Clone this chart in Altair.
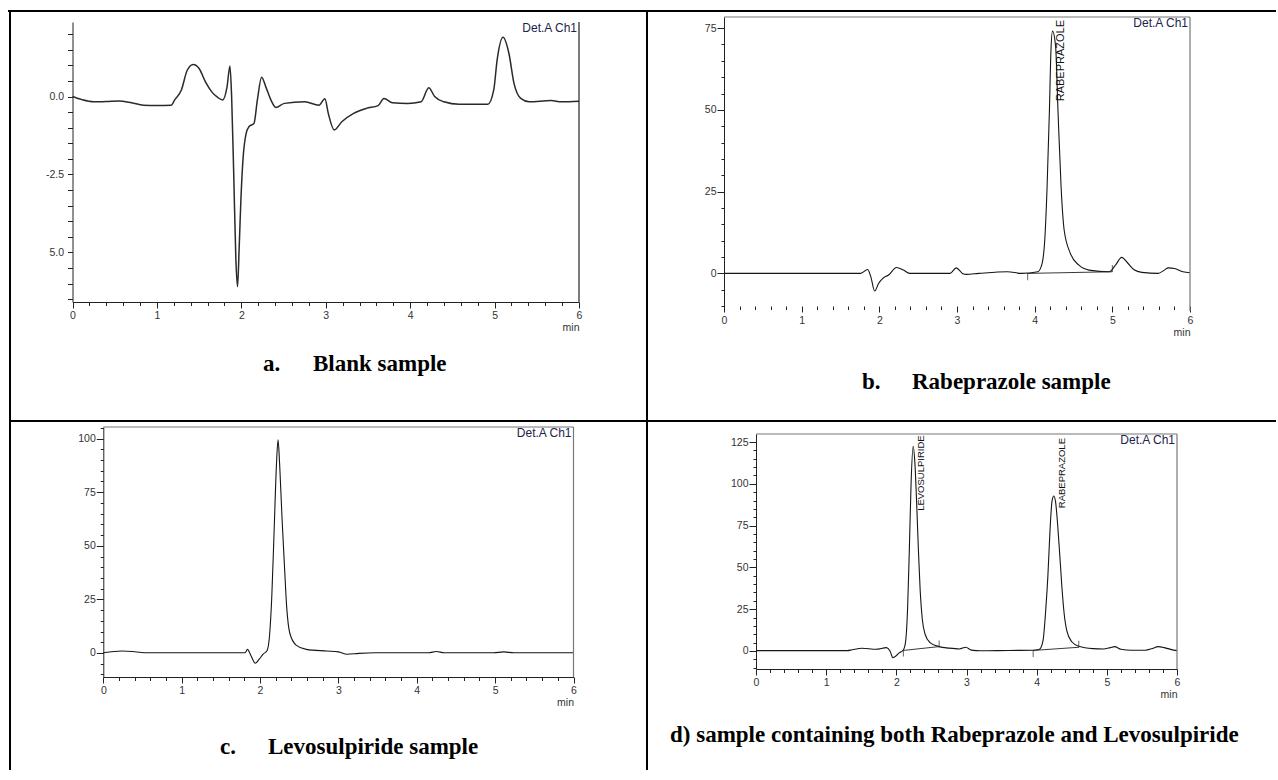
import altair as alt
import pandas as pd

W, H = 1276, 770

# ---------------- data ----------------
# a. Blank sample
blank_t = [0.00, 0.11, 0.25, 0.40, 0.55, 0.70, 0.84, 1.00, 1.17, 1.21,
           1.29, 1.36, 1.43, 1.50, 1.575, 1.65, 1.72, 1.78, 1.83, 1.865,
           1.885, 1.91, 1.935, 1.955, 1.975, 1.995, 2.02, 2.057, 2.09, 2.15,
           2.19, 2.24, 2.29, 2.35, 2.41, 2.51, 2.75, 2.92, 2.99, 3.03,
           3.10, 3.19, 3.33, 3.48, 3.62, 3.69, 3.79, 3.97, 4.13, 4.22,
           4.29, 4.40, 4.58, 4.92, 4.99, 5.03, 5.10, 5.17, 5.23, 5.31,
           5.41, 5.67, 5.79, 6.00]
blank_v = [0.00, -0.10, -0.17, -0.16, -0.14, -0.20, -0.28, -0.29, -0.28, -0.11,
           0.21, 0.85, 1.03, 0.90, 0.47, 0.15, -0.03, -0.11, 0.30, 0.98,
           0.00, -2.50, -5.20, -6.10, -4.80, -3.30, -2.00, -1.18, -0.97, -0.86,
           -0.11, 0.62, 0.31, -0.11, -0.35, -0.22, -0.17, -0.28, -0.07, -0.54,
           -1.07, -0.81, -0.54, -0.38, -0.29, -0.06, -0.20, -0.22, -0.17, 0.28,
           0.00, -0.17, -0.25, -0.25, 0.21, 1.17, 1.90, 1.38, 0.42, -0.06,
           -0.17, -0.13, -0.17, -0.15]

# b. Rabeprazole sample
rabe_t = [0.00, 1.76, 1.85, 1.89, 1.94, 1.99, 2.045, 2.12, 2.22, 2.31,
          2.39, 2.91, 2.99, 3.07, 3.12, 3.28, 3.65, 3.83, 4.04, 4.09,
          4.13, 4.16, 4.19, 4.21, 4.23, 4.27, 4.30, 4.34, 4.38, 4.46,
          4.57, 4.70, 4.96, 5.04, 5.12, 5.20, 5.28, 5.38, 5.59, 5.67,
          5.72, 5.80, 5.91, 6.00]
rabe_v = [0.0, 0.0, 1.2, -1.0, -5.4, -3.1, -1.5, -0.5, 1.8, 1.0,
          0.0, 0.0, 1.7, 0.0, -0.3, 0.0, 0.5, 0.0, 0.5, 2.5,
          10.2, 26.5, 49.9, 68.3, 74.1, 69.3, 49.9, 26.5, 13.2, 6.1,
          2.5, 1.0, 0.5, 2.5, 4.9, 3.1, 1.1, 0.3, 0.0, 1.0,
          1.7, 1.5, 0.5, 0.2]
rabe_base_t = [3.91, 5.00]
rabe_base_v = [0.0, 0.5]
rabe_mark_t = [3.91, 5.00]
rabe_mark_v = [-1.0, 1.5]
rabe_peak_names = ["RABEPRAZOLE"]
rabe_peak_t = [4.34]
rabe_peak_top = [77.5]

# c. Levosulpiride sample
levo_t = [0.00, 0.24, 0.40, 0.56, 1.81, 1.84, 1.88, 1.94, 1.99, 2.04,
          2.09, 2.12, 2.15, 2.18, 2.21, 2.23, 2.25, 2.28, 2.31, 2.34,
          2.38, 2.46, 2.59, 2.85, 3.00, 3.11, 3.26, 3.47, 4.15, 4.25,
          4.35, 4.98, 5.11, 5.24, 6.00]
levo_v = [0.1, 0.9, 0.6, 0.1, 0.1, 1.7, -0.9, -4.8, -2.9, -0.5,
          1.2, 7.6, 26.2, 57.2, 88.2, 99.4, 88.2, 63.4, 41.7, 21.5,
          9.2, 3.7, 1.7, 0.9, 0.5, -0.6, -0.2, 0.1, 0.1, 0.7,
          0.1, 0.1, 0.5, 0.1, 0.1]

# d. mixture
mix_t = [0.00, 1.30, 1.37, 1.51, 1.71, 1.86, 1.91, 1.95, 2.00, 2.04,
         2.10, 2.13, 2.16, 2.185, 2.21, 2.24, 2.265, 2.29, 2.315, 2.34,
         2.37, 2.41, 2.48, 2.61, 2.75, 2.90, 2.99, 3.07, 3.20, 3.60,
         3.95, 4.04, 4.09, 4.13, 4.16, 4.19, 4.22, 4.245, 4.27, 4.30,
         4.33, 4.36, 4.39, 4.43, 4.50, 4.60, 4.80, 4.95, 5.05, 5.11,
         5.20, 5.35, 5.55, 5.65, 5.73, 5.82, 5.92, 6.00]
mix_v = [0.2, 0.2, 0.7, 1.6, 1.0, 2.0, 0.0, -4.0, -2.8, -1.2,
         0.6, 5.0, 25.0, 60.0, 100.0, 122.5, 112.0, 88.0, 60.0, 36.0,
         19.0, 10.0, 5.0, 2.6, 1.7, 1.2, 2.2, 0.5, 0.1, 0.3,
         0.4, 1.0, 6.0, 25.0, 45.0, 72.0, 90.0, 92.7, 89.0, 75.0,
         57.0, 38.0, 23.0, 12.0, 5.5, 2.8, 1.4, 1.2, 2.0, 2.6,
         1.0, 0.4, 0.4, 1.5, 2.6, 2.0, 0.8, 0.2]
mix_base_seg = ["p1", "p1", "p2", "p2"]
mix_base_t = [2.10, 2.61, 3.95, 4.60]
mix_base_v = [0.3, 2.6, 0.3, 2.2]
mix_mark_t = [2.10, 2.61, 3.95, 4.60]
mix_mark_v = [-1.2, 4.2, -1.6, 4.0]
mix_peak_names = ["LEVOSULPIRIDE", "RABEPRAZOLE"]
mix_peak_t = [2.35, 4.355]
mix_peak_top = [129.0, 127.4]

# tick values
x_ticks = [round(i * 0.2, 1) for i in range(31)]
a_yticks = [-6.5, -6.0, -5.5, -5.0, -4.5, -4.0, -3.5, -3.0, -2.5, -2.0, -1.5,
            -1.0, -0.5, 0.0, 0.5, 1.0, 1.5, 2.0]
b_yticks = list(range(-10, 80, 5))
c_yticks = list(range(-10, 106, 5))
d_yticks = list(range(-10, 130, 5))

captions = [
    ("a.", 263, 371), ("Blank sample", 313, 371),
    ("b.", 862, 389), ("Rabeprazole sample", 912, 389),
    ("c.", 220, 754), ("Levosulpiride sample", 268, 754),
    ("d) sample containing both Rabeprazole and Levosulpiride", 670, 742),
]

# ---------------- styling helpers ----------------
AX = dict(domainColor="#222", tickColor="#222", labelColor="#333",
          labelFont="Liberation Sans", labelFontSize=10.5, grid=False,
          labelFlush=False, labelOverlap=False)
one = pd.DataFrame({"k": [0]})


def x_axis(ypos, domain=True, pad=2):
    return alt.Axis(orient="bottom", offset=ypos - H, values=x_ticks,
                    labelExpr="datum.value % 1 === 0 ? '' + datum.value : ''",
                    tickSize={"condition": {"test": "datum.value % 1 === 0", "value": 6}, "value": 3.5},
                    domain=domain, labelPadding=pad,
                    title="min", titleAnchor="end", titleAlign="right",
                    titleFont="Liberation Sans", titleFontSize=10.5,
                    titleFontWeight="normal", titleColor="#333", titlePadding=2,
                    **AX)


def y_axis(xpos, values, label_expr, tick_size, pad):
    return alt.Axis(orient="left", offset=-xpos, values=values, labelExpr=label_expr,
                    tickSize=tick_size, labelPadding=pad, title=None, **AX)


def panel(t, v, xr, yd, yr, xax, yax, line_w=1.1, line_col="#151515",
          frame_top=True, frame_col="#777", det_dy=1):
    xs = alt.Scale(domain=[0, 6], range=xr, zero=False, nice=False)
    ys = alt.Scale(domain=yd, range=yr, zero=False, nice=False)
    df = pd.DataFrame({"t": t, "v": v})
    layers = [
        alt.Chart(df).mark_line(interpolate="monotone", color=line_col, strokeWidth=line_w).encode(
            x=alt.X("t:Q", scale=xs, axis=xax), y=alt.Y("v:Q", scale=ys, axis=yax)),
        alt.Chart(one).mark_rule(color=frame_col, strokeWidth=1.2).encode(
            x=alt.XDatum(6, type="quantitative", scale=xs, axis=None),
            y=alt.YDatum(yd[0], type="quantitative", scale=ys, axis=None),
            y2=alt.Y2Datum(yd[1])),
        alt.Chart(one).mark_text(align="right", baseline="top", dx=-2, dy=det_dy,
                                 font="Liberation Sans", fontSize=12, color="#22224a").encode(
            x=alt.XDatum(6, type="quantitative", scale=xs, axis=None),
            y=alt.YDatum(yd[1], type="quantitative", scale=ys, axis=None),
            text=alt.value("Det.A Ch1")),
    ]
    if frame_top:
        layers.append(alt.Chart(one).mark_rule(color=frame_col, strokeWidth=1.2).encode(
            x=alt.XDatum(0, type="quantitative", scale=xs, axis=None),
            x2=alt.X2Datum(6),
            y=alt.YDatum(yd[1], type="quantitative", scale=ys, axis=None)))
    return layers, xs, ys


def extras(xs, ys, base=None, marks=None, peaks=None, font_size=9):
    out = []
    if base is not None:
        out.append(alt.Chart(base).mark_line(color="#222", strokeWidth=0.9).encode(
            x=alt.X("t:Q", scale=xs, axis=None), y=alt.Y("v:Q", scale=ys, axis=None),
            detail="seg:N"))
    if marks is not None:
        out.append(alt.Chart(marks).mark_tick(orient="vertical", size=7, thickness=1, color="#222").encode(
            x=alt.X("t:Q", scale=xs, axis=None), y=alt.Y("v:Q", scale=ys, axis=None)))
    if peaks is not None:
        out.append(alt.Chart(peaks).mark_text(angle=270, align="right", baseline="middle",
                                               font="Liberation Sans Narrow, Arial Narrow, Liberation Sans",
                                               fontSize=font_size, color="#111").encode(
            x=alt.X("t:Q", scale=xs, axis=None), y=alt.Y("top:Q", scale=ys, axis=None),
            text="name:N"))
    return out


# ---- panel a ----
a_layers, _, _ = panel(
    blank_t, blank_v, [72.5, 579], [-6.59, 2.39], [302, 22],
    x_axis(302),
    y_axis(72.5, a_yticks,
           "datum.value === 0 ? '0.0' : datum.value === -2.5 ? '-2.5' : datum.value === -5 ? '5.0' : ''",
           5, 4),
    line_w=1.5, line_col="#2a2a2a", frame_top=False, frame_col="#222")

# ---- panel b ----
major25 = {"condition": {"test": "datum.value % 25 === 0", "value": 7}, "value": 3}
lab25 = "datum.value % 25 === 0 ? '' + datum.value : ''"
b_layers, bxs, bys = panel(
    rabe_t, rabe_v, [724, 1190], [-11.5, 78.4], [311, 17],
    x_axis(306, domain=False, pad=3),
    y_axis(724, b_yticks, lab25, major25, 1))
b_layers += extras(
    bxs, bys,
    base=pd.DataFrame({"t": rabe_base_t, "v": rabe_base_v, "seg": ["p1", "p1"]}),
    marks=pd.DataFrame({"t": rabe_mark_t, "v": rabe_mark_v}),
    peaks=pd.DataFrame({"t": rabe_peak_t, "top": rabe_peak_top, "name": rabe_peak_names}),
    font_size=11)

# ---- panel c ----
c_layers, _, _ = panel(
    levo_t, levo_v, [103.3, 573.5], [-11.2, 105.4], [677, 427],
    x_axis(677),
    y_axis(103.3, c_yticks, lab25, major25, 1))

# ---- panel d ----
d_layers, dxs, dys = panel(
    mix_t, mix_v, [756, 1177], [-10.8, 129.8], [669, 434],
    x_axis(669),
    y_axis(756, d_yticks, lab25, major25, 1))
d_layers += extras(
    dxs, dys,
    base=pd.DataFrame({"t": mix_base_t, "v": mix_base_v, "seg": mix_base_seg}),
    marks=pd.DataFrame({"t": mix_mark_t, "v": mix_mark_v}),
    peaks=pd.DataFrame({"t": mix_peak_t, "top": mix_peak_top, "name": mix_peak_names}),
    font_size=9.5)

# ---- table borders ----
border_layers = []
for (x1, x2, y1, y2) in [(8, W, 11, 11), (10, 10, 10, H), (647, 647, 10, H), (9, W, 421, 421)]:
    enc = dict(x=alt.value(x1), y=alt.value(y1))
    if x1 != x2:
        enc["x2"] = alt.value(x2)
    else:
        enc["y2"] = alt.value(y2)
    border_layers.append(alt.Chart(one).mark_rule(color="black", strokeWidth=2).encode(**enc))

# ---- captions ----
caption_layers = [
    alt.Chart(one).mark_text(align="left", baseline="alphabetic", font="Liberation Serif",
                             fontWeight="bold", fontSize=23, color="black").encode(
        x=alt.value(cx), y=alt.value(cy), text=alt.value(txt))
    for (txt, cx, cy) in captions
]

chart = alt.layer(
    *a_layers, *b_layers, *c_layers, *d_layers,
    *border_layers, *caption_layers,
).resolve_scale(x="independent", y="independent").resolve_axis(
    x="independent", y="independent").properties(
    width=W, height=H, autosize=alt.AutoSizeParams(type="none"), padding=0,
).configure_view(stroke=None)

chart.save("out.html", embed_options={"renderer": "svg", "actions": False})
